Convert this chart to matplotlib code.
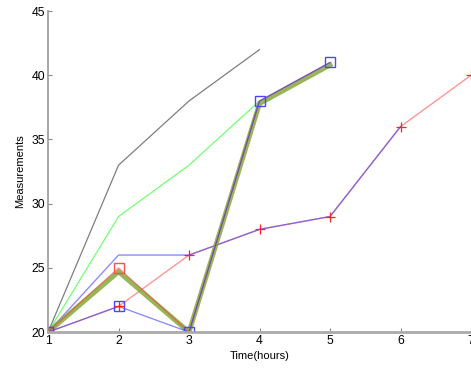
import matplotlib
matplotlib.use("Agg")
import matplotlib.pyplot as plt

plt.rcParams['font.family'] = ['Liberation Sans', 'DejaVu Sans']

# === data ===
t_gray = [1, 2, 3, 4]
y_gray = [20, 33, 38, 42]

t_green = [1, 2, 3, 4]
y_green = [20, 29, 33, 38]

t_blue_thin = [1, 2, 3, 4, 5, 6]
y_blue_thin = [20, 26, 26, 28, 29, 36]

t_red_star = [1, 2, 3, 4, 5, 6, 7]
y_red_star = [20, 22, 26, 28, 29, 36, 40]

t_red_sq = [1, 2, 3, 4, 5]
y_red_sq = [20, 25, 20, 38, 41]

t_blue_sq = [1, 2, 3, 4, 5]
y_blue_sq = [20, 22, 20, 38, 41]

t_mean = [1, 2, 3, 4, 5]
y_mean = [20, 24.7, 20, 37.8, 40.8]

xticks = [1, 2, 3, 4, 5, 6, 7]
yticks = [20, 25, 30, 35, 40, 45]

# === figure ===
fig = plt.figure(figsize=(4.71, 3.69), dpi=100)
ax = fig.add_axes([0.102, 0.100, 0.898, 0.870])

ax.plot(t_gray, y_gray, color='#707070', lw=0.9, alpha=0.9)
ax.plot(t_green, y_green, color='#50ff50', lw=0.9, alpha=0.8)
# red line underneath, blue on top -> purple where they overlap
ax.plot(t_red_star, y_red_star, color='#ff5050', lw=1.0, alpha=0.6)
ax.plot(t_blue_thin, y_blue_thin, color='#4040ff', lw=1.0, alpha=0.6)
ax.plot(t_mean, y_mean, color='#86a83a', lw=3.5, alpha=0.85, solid_joinstyle='miter')
ax.plot(t_red_sq, y_red_sq, color=(1, 0.2, 0.2, 0.5), lw=0.9,
        marker='s', ms=7, mfc='none', mec='#ff5050', markevery=[0, 1])
ax.plot(t_blue_sq, y_blue_sq, color=(0.2, 0.2, 1, 0.6), lw=0.9,
        marker='s', ms=7, mfc='none', mec='#4848ff')
ax.plot(t_red_star, y_red_star, ls='none', marker='+', ms=7, mew=0.9, color='#ff2020')

ax.set_xlim(1, 7)
ax.set_ylim(20, 45)
ax.set_xticks(xticks)
ax.set_yticks(yticks)
ax.tick_params(direction='in', length=3, color='#888888', labelsize=8.8, pad=2)

for s in ['top', 'right']:
    ax.spines[s].set_visible(False)
ax.spines['left'].set_color('#999999')
ax.spines['left'].set_linewidth(1.2)
ax.spines['bottom'].set_color('#aaaaaa')
ax.spines['bottom'].set_linewidth(2.0)

ax.set_xlabel("Time(hours)", fontsize=8, labelpad=3)
ax.set_ylabel("Measurements", fontsize=8, labelpad=5)

for lab in ax.get_xticklabels() + ax.get_yticklabels():
    lab.set_clip_on(False)

fig.savefig("out.png", dpi=100)
